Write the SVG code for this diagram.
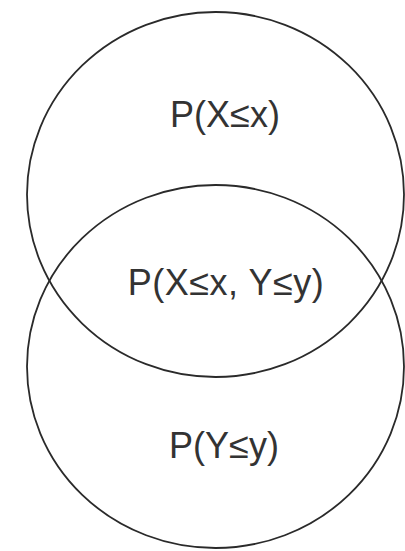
<svg xmlns="http://www.w3.org/2000/svg" width="405" height="551" viewBox="0 0 405 551">
<style>
.set{fill:none;stroke:#2a2a2a;stroke-width:1.8}
.lbl{font-family:"Liberation Sans",Arial,sans-serif;font-size:36px;fill:#333;text-anchor:middle}
</style>
<rect width="405" height="551" fill="#fff"/>
<g id="setX">
<ellipse class="set" cx="215.5" cy="194.5" rx="188.5" ry="182.5"/>
<text class="lbl" x="225" y="127">P(X≤x)</text>
</g>
<g id="setY">
<ellipse class="set" cx="215.5" cy="366.5" rx="188.5" ry="181.5"/>
<text class="lbl" x="224" y="458">P(Y≤y)</text>
</g>
<g id="intersection">
<text class="lbl" x="226" y="295" letter-spacing="0.5">P(X≤x, Y≤y)</text>
</g>
<g id="connectors"></g>
</svg>
